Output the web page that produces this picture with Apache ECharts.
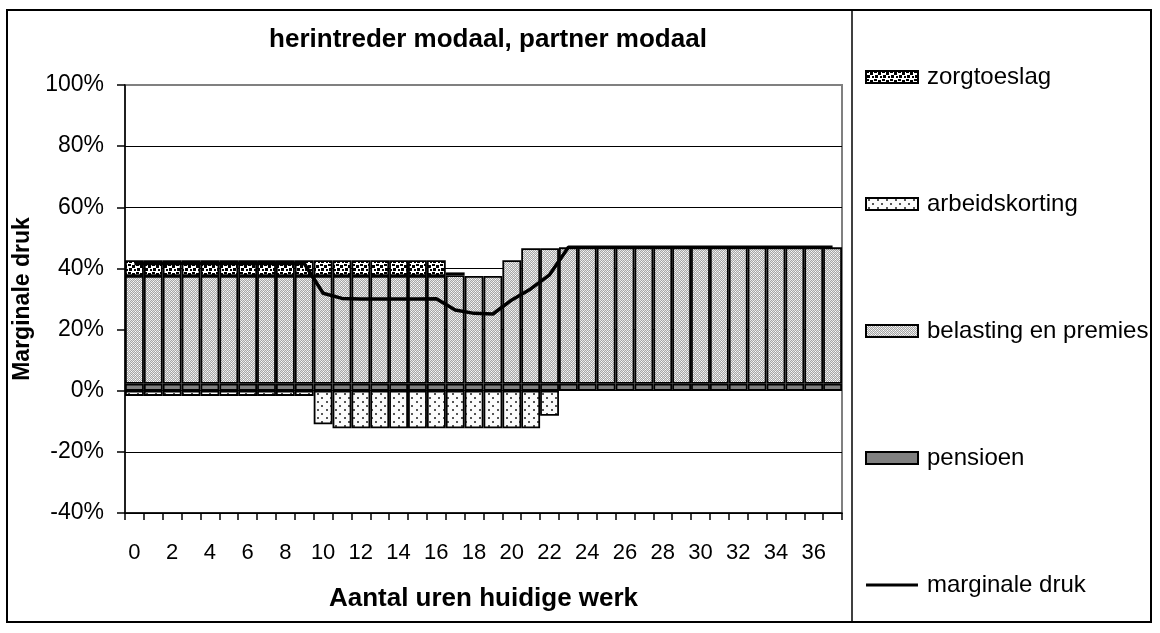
<!DOCTYPE html>
<html>
<head>
    <meta charset="utf-8">
    <title>herintreder modaal, partner modaal</title>
    <script src="https://cdn.jsdelivr.net/npm/echarts/dist/echarts.min.js"></script>
    <style>
        html, body { margin: 0; padding: 0; background: #fff; }
        #chart1 { width: 1160px; height: 633px; }
    </style>
</head>
<body>
<div id="chart1"></div>
<script type="text/javascript">

    // uren per week (categorieen)
    var uren = ['0', '1', '2', '3', '4', '5', '6', '7', '8', '9',
        '10', '11', '12', '13', '14', '15', '16', '17', '18', '19',
        '20', '21', '22', '23', '24', '25', '26', '27', '28', '29',
        '30', '31', '32', '33', '34', '35', '36', '37'];

    var pensioen = [2.3, 2.3, 2.3, 2.3, 2.3, 2.3, 2.3, 2.3, 2.3, 2.3,
        2.3, 2.3, 2.3, 2.3, 2.3, 2.3, 2.3, 2.3, 2.3, 2.3,
        2.3, 2.3, 2.3, 2.3, 2.3, 2.3, 2.3, 2.3, 2.3, 2.3,
        2.3, 2.3, 2.3, 2.3, 2.3, 2.3, 2.3, 2.3];
    var belasting = [35.2, 35.2, 35.2, 35.2, 35.2, 35.2, 35.2, 35.2, 35.2, 35.2,
        35.2, 35.2, 35.2, 35.2, 35.2, 35.2, 35.2, 35.5, 35.2, 35.2,
        40.4, 44.3, 44.3, 44.6, 44.6, 44.6, 44.6, 44.6, 44.6, 44.6,
        44.6, 44.6, 44.6, 44.6, 44.6, 44.6, 44.6, 44.6];
    var arbeidskorting = [-1.7, -1.7, -1.7, -1.7, -1.7, -1.7, -1.7, -1.7, -1.7, -1.7,
        -11.0, -12.3, -12.3, -12.3, -12.3, -12.3, -12.3, -12.3, -12.3, -12.3,
        -12.3, -12.3, -8.2, null, null, null, null, null, null, null,
        null, null, null, null, null, null, null, null];
    var zorgtoeslag = [5.2, 5.2, 5.2, 5.2, 5.2, 5.2, 5.2, 5.2, 5.2, 5.2,
        5.2, 5.2, 5.2, 5.2, 5.2, 5.2, 5.2, 0.9, null, null,
        null, null, null, null, null, null, null, null, null, null,
        null, null, null, null, null, null, null, null];
    var marginaleDruk = [41.6, 41.6, 41.6, 41.6, 41.6, 41.6, 41.6, 41.6, 41.6, 41.6,
        31.9, 30.2, 30.0, 30.0, 30.0, 30.0, 30.1, 26.4, 25.3, 25.1,
        29.7, 33.3, 37.9, 46.9, 46.9, 46.9, 46.9, 46.9, 46.9, 46.9,
        46.9, 46.9, 46.9, 46.9, 46.9, 46.9, 46.9, 46.9];

    var font = 'Liberation Sans, Arial, sans-serif';

    // kleine canvas-tegels als vulpatroon (zoals de Excel-arceringen)
    function tile(w, h, draw) {
        var c = document.createElement('canvas');
        c.width = w;
        c.height = h;
        draw(c.getContext('2d'));
        return {image: c, repeat: 'repeat'};
    }

    var patBelasting = tile(4, 4, function (ctx) {
        var L = '#e4e4e4', D = '#a6a6a6', W = '#ffffff';
        var map = [[L, D, L, D], [D, W, D, L], [L, D, L, D], [D, L, D, W]];
        for (var y = 0; y < 4; y++) {
            for (var x = 0; x < 4; x++) {
                ctx.fillStyle = map[y][x];
                ctx.fillRect(x, y, 1, 1);
            }
        }
    });

    var patZorg = tile(8, 8, function (ctx) {
        ctx.fillStyle = '#ffffff';
        ctx.fillRect(0, 0, 8, 8);
        ctx.fillStyle = '#000000';
        ctx.fillRect(0, 0, 3, 2);
        ctx.fillRect(4, 1, 3, 3);
        ctx.fillRect(1, 4, 3, 3);
        ctx.fillRect(6, 5, 2, 2);
    });

    var patArbeid = tile(9, 8, function (ctx) {
        ctx.fillStyle = '#fbfbfb';
        ctx.fillRect(0, 0, 9, 8);
        ctx.fillStyle = '#555555';
        ctx.fillRect(2, 1, 2, 2);
        ctx.fillRect(6, 5, 2, 2);
    });

    var barBorder = {borderColor: '#000', borderWidth: 1.8};

    var myChart1 = echarts.init(document.getElementById('chart1'));

    myChart1.setOption({
        animation: false,
        backgroundColor: '#fff',
        textStyle: {fontFamily: font, color: '#000'},
        title: {
            text: 'herintreder modaal, partner modaal',
            left: 488,
            top: 27,
            padding: 0,
            textAlign: 'center',
            textStyle: {fontFamily: font, fontSize: 26, fontWeight: 'bold', color: '#000'}
        },
        legend: {
            orient: 'vertical',
            left: 860,
            top: 60,
            itemWidth: 52,
            itemHeight: 12,
            itemGap: 103,
            selectedMode: false,
            textStyle: {fontFamily: font, fontSize: 24, lineHeight: 24, color: '#000', padding: [0, 0, 0, 4]},
            data: [
                {name: 'zorgtoeslag', icon: 'rect'},
                {name: 'arbeidskorting', icon: 'rect'},
                {name: 'belasting en premies', icon: 'rect'},
                {name: 'pensioen', icon: 'rect'},
                {
                    name: 'marginale druk',
                    // dunne lijn; de bijna-lege strookjes houden de hoogte op 12
                    icon: 'path://M0,0L52,0L52,0.01Z M0,4.4L52,4.4L52,7.6L0,7.6Z M0,12L52,12L52,12.01Z',
                    itemStyle: {color: '#000', borderWidth: 0}
                }
            ]
        },
        grid: {
            left: 125,
            right: 318,
            top: 85,
            bottom: 120,
            show: true,
            borderColor: '#808080',
            borderWidth: 2
        },
        xAxis: {
            type: 'category',
            data: uren,
            boundaryGap: true,
            name: 'Aantal uren huidige werk',
            nameLocation: 'middle',
            nameGap: 73,
            nameTextStyle: {fontFamily: font, fontSize: 26, fontWeight: 'bold', color: '#000'},
            axisLine: {onZero: false, lineStyle: {color: '#000', width: 1.5}},
            axisTick: {show: true, interval: 0, length: 7, lineStyle: {color: '#000', width: 1.5}},
            axisLabel: {interval: 1, margin: 29, fontFamily: font, fontSize: 22, color: '#000'},
            splitLine: {show: false}
        },
        yAxis: {
            type: 'value',
            min: -40,
            max: 100,
            interval: 20,
            name: 'Marginale druk',
            nameLocation: 'middle',
            nameGap: 82,
            nameTextStyle: {fontFamily: font, fontSize: 23, fontWeight: 'bold', color: '#000'},
            axisLine: {show: true, lineStyle: {color: '#000', width: 1.5}},
            axisTick: {show: true, length: 8, lineStyle: {color: '#000', width: 1.5}},
            axisLabel: {margin: 21, fontFamily: font, fontSize: 23, color: '#000', formatter: '{value}%'},
            splitLine: {
                show: true,
                lineStyle: {
                    color: ['#000', '#000', '#000', '#000', '#000', '#000', '#000', '#808080'],
                    width: 1.2
                }
            }
        },
        series: [{
            name: 'pensioen',
            type: 'bar',
            stack: 'druk',
            barCategoryGap: '0%',
            data: pensioen,
            itemStyle: Object.assign({color: '#808080'}, barBorder)
        }, {
            name: 'belasting en premies',
            type: 'bar',
            stack: 'druk',
            data: belasting,
            itemStyle: Object.assign({color: patBelasting}, barBorder)
        }, {
            name: 'arbeidskorting',
            type: 'bar',
            stack: 'druk',
            data: arbeidskorting,
            itemStyle: Object.assign({color: patArbeid}, barBorder)
        }, {
            name: 'zorgtoeslag',
            type: 'bar',
            stack: 'druk',
            data: zorgtoeslag,
            itemStyle: Object.assign({color: patZorg}, barBorder)
        }, {
            name: 'marginale druk',
            type: 'line',
            data: marginaleDruk,
            symbol: 'none',
            z: 5,
            itemStyle: {color: '#000'},
            lineStyle: {color: '#000', width: 3.5}
        }],
        graphic: [{
            type: 'rect',
            shape: {x: 7, y: 10, width: 1144, height: 612},
            style: {fill: 'none', stroke: '#000', lineWidth: 2},
            silent: true
        }, {
            type: 'line',
            shape: {x1: 852, y1: 10, x2: 852, y2: 622},
            style: {stroke: '#000', lineWidth: 1.5},
            silent: true
        }]
    });

</script>
</body>
</html>
